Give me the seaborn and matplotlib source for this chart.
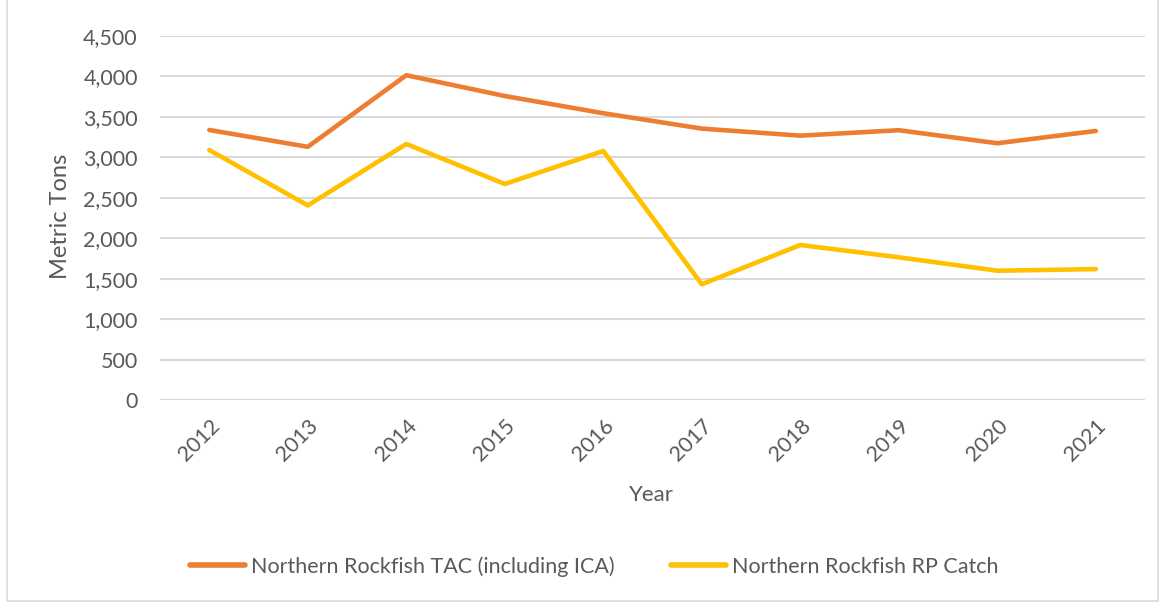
import matplotlib.pyplot as plt
import seaborn as sns
import pandas as pd
from matplotlib.ticker import FuncFormatter
from matplotlib.patches import Rectangle

# values
years = ['2012', '2013', '2014', '2015', '2016', '2017', '2018', '2019', '2020', '2021']
tac = [3338, 3130, 4015, 3758, 3545, 3355, 3268, 3335, 3174, 3326]
rp_catch = [3090, 2405, 3165, 2670, 3078, 1430, 1916, 1764, 1598, 1618]

series_names = ['Northern Rockfish TAC (including ICA)', 'Northern Rockfish RP Catch']
colors = ['#ED7D31', '#FFC000']

df = pd.DataFrame({
    'Year': years * 2,
    'Metric Tons': tac + rp_catch,
    'Series': [series_names[0]] * len(years) + [series_names[1]] * len(years),
})

sns.set_style('white')
plt.rcParams['font.family'] = ['Lato', 'DejaVu Sans']
text_color = '#595959'

fig = plt.figure(figsize=(11.63, 6.03), dpi=100)
ax = fig.add_axes([0.1376, 0.3367, 0.847, 0.6036])

sns.lineplot(data=df, x='Year', y='Metric Tons', hue='Series', palette=colors,
             linewidth=3.3, ax=ax, sort=False)
for line in ax.lines:
    line.set_solid_capstyle('round')
    line.set_solid_joinstyle('round')

ax.set_xlim(-0.5, len(years) - 0.5)
ax.set_ylim(0, 4500)
ax.set_yticks(range(0, 4501, 500))
ax.yaxis.set_major_formatter(FuncFormatter(lambda v, p: f'{int(v):,}'))
ax.grid(axis='y', color='#D9D9D9', linewidth=1.5)
ax.set_axisbelow(True)
for s in ax.spines.values():
    s.set_visible(False)

ax.tick_params(axis='both', length=0, colors=text_color, labelsize=15.5)
ax.tick_params(axis='y', pad=16)
ax.tick_params(axis='x', pad=11)
for lbl in ax.get_xticklabels():
    lbl.set_rotation(45)
    lbl.set_ha('right')
    lbl.set_rotation_mode('anchor')

ax.set_xlabel('Year', fontsize=16, color=text_color, va='center')
ax.xaxis.set_label_coords(0.4985, -0.261)
ax.set_ylabel('Metric Tons', fontsize=17, color=text_color, va='center')
ax.yaxis.set_label_coords(-0.1015, 0.505)

handles, labels = ax.get_legend_handles_labels()
ax.get_legend().remove()
for h in handles:
    h.set_linewidth(4)
fig.legend(handles, labels, loc='center', bbox_to_anchor=(0.511, 0.061), ncol=2,
           frameon=False, fontsize=15.5, handlelength=2.56, handletextpad=0.25,
           columnspacing=2.65, labelcolor=text_color)

# light chart border like the Excel frame
fig.patches.append(Rectangle((0.006, 0.004), 0.99, 1.2, transform=fig.transFigure,
                             fill=False, edgecolor='#D9D9D9', linewidth=1.2))

fig.savefig('out.png', dpi=100)
